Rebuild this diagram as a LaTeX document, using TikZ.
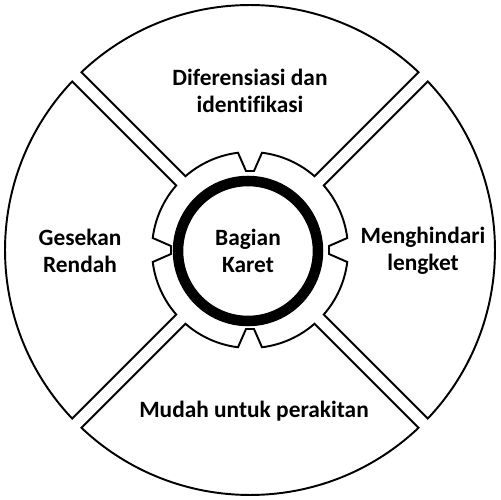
\documentclass[tikz,border=0pt]{standalone}
\usepackage{fontspec}
\setmainfont{Carlito}[Ligatures=NoCommon]
\usepackage{tikz}
\usetikzlibrary{positioning}
\tikzset{seg/.style={draw=black,line width=1.1pt,line join=miter,fill=white},
lbl/.style={align=center,font=\fontsize{13.3}{15.4}\selectfont\bfseries,inner sep=0pt},
core/.style={circle,draw=black,line width=6pt,minimum size=2.8cm,align=center,
font=\fontsize{13.3}{15.4}\selectfont\bfseries}}

\begin{document}
\begin{tikzpicture}[x=0.02cm,y=0.02cm]
\useasboundingbox (-250,-250) rectangle (250,250);
\foreach \ang in {0,90,180,270}
\draw[seg,rotate=\ang] (46.52:245) arc[start angle=46.52,end angle=133.48,radius=245]
 -- (131.2:98) arc[start angle=131.2,end angle=97.03,radius=98]
 -- (-4,79) -- (4,79) -- (82.97:98) arc[start angle=82.97,end angle=48.8,radius=98] -- cycle;
\node[core] (karet) at (-2,-1) {Bagian\\Karet};
\node[lbl] (diferensiasi) at (0,159) {Diferensiasi dan\\identifikasi};
\node[lbl] (gesekan) at (-170,-1) {Gesekan\\Rendah};
\node[lbl] (lengket) at (173,-1) {Menghindari\\lengket};
\node[lbl] (perakitan) at (4,-161) {Mudah untuk perakitan};
\end{tikzpicture}
\end{document}
